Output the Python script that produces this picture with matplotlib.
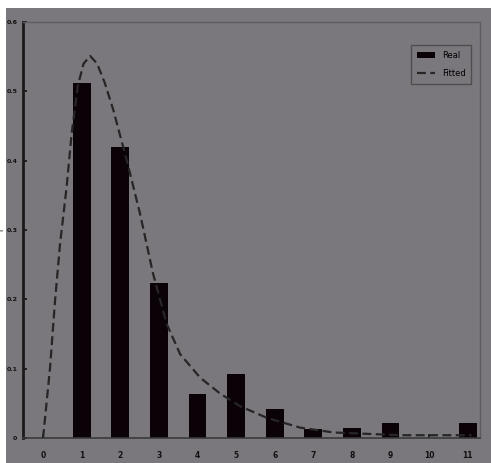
import matplotlib.pyplot as plt
from matplotlib.patches import Rectangle

# histogram values (category 0 has no bar)
categories = list(range(12))
tick_labels = [str(c) for c in categories]
real = [0.0, 0.512, 0.419, 0.223, 0.064, 0.093, 0.042, 0.013, 0.014, 0.022, 0.0, 0.022]

# fitted curve
fit_x = [0.0, 0.18, 0.31, 0.44, 0.61, 0.74, 0.90, 1.05, 1.22, 1.40, 1.60, 1.82, 2.17, 2.51,
         2.85, 3.20, 3.55, 4.07, 4.59, 5.10, 5.80, 6.66, 7.52, 8.39, 9.25, 10.1, 11.1]
fit_y = [0.0, 0.101, 0.198, 0.280, 0.362, 0.439, 0.508, 0.540, 0.551, 0.540, 0.512, 0.473,
         0.400, 0.324, 0.237, 0.165, 0.121, 0.087, 0.064, 0.046, 0.029, 0.015, 0.008, 0.006,
         0.004, 0.004, 0.004]

y_ticks = [0, 0.1, 0.2, 0.3, 0.4, 0.5, 0.6]
y_tick_labels = ["0", "0.1", "0.2", "0.3", "0.4", "0.5", "0.6"]

gray = "#7a787c"

fig = plt.figure(figsize=(4.91, 4.63), dpi=100, facecolor="white")
fig.patches.append(Rectangle((6 / 491, 0), 1, 1 - 8 / 463, transform=fig.transFigure,
                             facecolor=gray, edgecolor="none", zorder=-10))

ax = fig.add_axes([23 / 491, 1 - 438 / 463, 457 / 491, 416 / 463])
ax.set_zorder(1)
ax.set_facecolor(gray)

bars = ax.bar(categories, real, width=0.46, color="#0a0206", label="Real", zorder=2)
line, = ax.plot(fit_x, fit_y, color="#262626", lw=1.6, dashes=(4, 2), label="Fitted", zorder=3)

ax.set_xlim(-0.52, 11.32)
ax.set_ylim(0, 0.6)
ax.set_xticks(categories)
ax.set_xticklabels(tick_labels, fontsize=5.5, fontweight="bold")
ax.set_yticks(y_ticks)
ax.set_yticklabels(y_tick_labels, fontsize=4.5, fontweight="bold")
ax.tick_params(axis="both", direction="in", length=3, width=1.2, colors="#111111")
ax.tick_params(axis="x", pad=9)
ax.tick_params(axis="y", pad=4)
ax.set_ylabel("f", fontsize=5, labelpad=1)

ax.spines["left"].set_linewidth(2)
ax.spines["left"].set_color("#1a1a1a")
ax.spines["bottom"].set_linewidth(1.2)
ax.spines["bottom"].set_color("#3a3a3a")
for s in ["top", "right"]:
    ax.spines[s].set_linewidth(1)
    ax.spines[s].set_color("#5e5c60")

leg = ax.legend([bars, line], ["Real", "Fitted"], loc="upper right", fontsize=6,
                frameon=True, fancybox=False, bbox_to_anchor=(0.99, 0.955),
                handlelength=2.2, labelspacing=1.1, borderpad=0.7)
leg.get_frame().set_facecolor(gray)
leg.get_frame().set_edgecolor("#444444")

fig.savefig("out.png", dpi=100, facecolor=fig.get_facecolor())
